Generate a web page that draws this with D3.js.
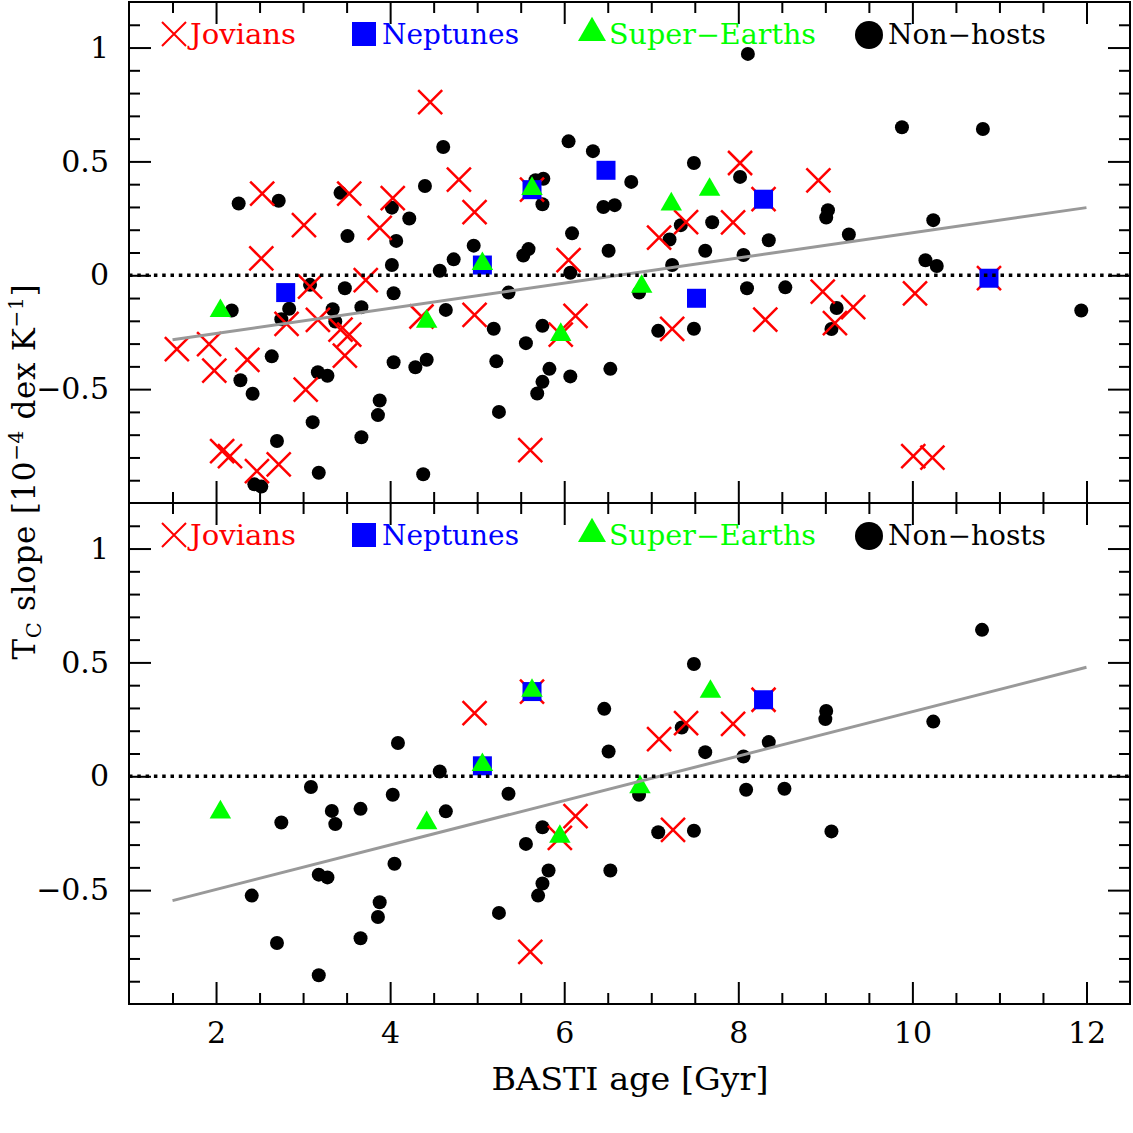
<!DOCTYPE html>
<html>
<head>
<meta charset="utf-8">
<script src="https://cdn.jsdelivr.net/npm/d3@7"></script>
<style>
  body { margin: 0; background: #fff; }
  text { font-family: "DejaVu Serif", serif; }
</style>
</head>
<body>
<svg id="chart" width="1133" height="1133"></svg>
<script>
// ---- data: [age Gyr, Tc slope] ----
// top panel: full sample
const topJovians = [
  [1.55,-0.324],[1.92,-0.302],[1.98,-0.419],[2.36,-0.371],[2.07,-0.772],[2.16,-0.794],
  [2.47,-0.86],[2.72,-0.83],[2.53,0.359],[2.52,0.074],[3.01,0.22],[2.81,-0.213],
  [3.08,-0.05],[3.17,-0.196],[3.03,-0.502],[3.43,-0.239],[3.53,-0.261],[3.48,-0.353],
  [3.53,0.359],[3.72,-0.021],[3.88,0.208],[4.03,0.339],[4.46,0.76],[4.79,0.42],
  [4.97,0.277],[4.36,-0.181],[4.97,-0.174],[5.63,0.376],[5.61,-0.768],[5.96,-0.261],
  [6.05,0.067],[6.13,-0.178],[7.09,0.165],[7.40,0.233],[7.94,0.232],[8.02,0.493],
  [7.24,-0.235],[8.31,-0.195],[8.29,0.334],[8.92,0.417],[8.97,-0.072],[9.11,-0.21],
  [9.32,-0.14],[10.03,-0.079],[10.01,-0.794],[10.23,-0.801],[10.88,-0.013]
];
const topNeptunes = [
  [2.80,-0.076],[5.06,0.045],[5.63,0.376],[6.48,0.461],[7.52,-0.101],[8.29,0.334],[10.88,-0.013]
];
const topSuperEarths = [
  [2.05,-0.156],[4.42,-0.203],[5.06,0.05],[5.63,0.38],[5.96,-0.261],[6.89,-0.05],[7.23,0.312],[7.67,0.376]
];
const topNonHosts = [
  [2.26,0.315],[2.72,0.327],[3.43,0.362],[4.02,0.297],[3.51,0.172],[4.07,0.151],[4.22,0.249],
  [4.40,0.392],[4.61,0.563],[6.05,0.588],[6.33,0.545],[6.77,0.41],[7.49,0.493],[8.02,0.432],
  [8.11,0.972],[5.67,0.417],[5.76,0.424],[5.75,0.312],[6.45,0.30],[6.58,0.308],[7.34,0.22],
  [7.21,0.157],[7.70,0.233],[8.35,0.154],[6.09,0.184],[6.51,0.108],[4.96,0.13],[5.59,0.115],
  [5.53,0.087],[7.62,0.108],[8.06,0.089],[4.73,0.07],[9.88,0.65],[10.81,0.642],[9.03,0.286],
  [9.01,0.254],[10.24,0.242],[9.27,0.179],[10.15,0.066],[10.28,0.041],[4.02,0.045],[4.57,0.02],
  [6.07,0.011],[7.24,0.045],[3.08,-0.042],[3.48,-0.057],[4.04,-0.079],[2.18,-0.155],[2.84,-0.147],
  [2.75,-0.193],[3.34,-0.149],[3.37,-0.203],[3.67,-0.14],[2.64,-0.356],[2.28,-0.461],[2.42,-0.52],
  [3.17,-0.426],[3.28,-0.441],[4.04,-0.382],[3.11,-0.645],[3.88,-0.55],[3.86,-0.614],[3.67,-0.711],
  [2.70,-0.728],[2.44,-0.918],[2.52,-0.928],[3.18,-0.867],[4.64,-0.152],[5.19,-0.235],[5.75,-0.222],
  [5.56,-0.298],[7.08,-0.244],[7.49,-0.235],[5.36,-0.076],[6.86,-0.076],[8.10,-0.057],[4.29,-0.404],
  [4.42,-0.371],[5.22,-0.378],[5.83,-0.411],[6.07,-0.444],[6.53,-0.411],[5.75,-0.468],[5.69,-0.519],
  [5.25,-0.6],[4.38,-0.874],[8.54,-0.053],[9.13,-0.144],[9.07,-0.236],[11.94,-0.155]
];
const topFit = [[1.5,-0.283],[12,0.297]];

// bottom panel: restricted sample
const botJovians = [
  [4.97,0.277],[5.63,0.372],[5.95,-0.271],[5.61,-0.771],[6.13,-0.175],[7.09,0.163],
  [7.40,0.233],[7.94,0.23],[7.25,-0.235],[8.29,0.336]
];
const botNeptunes = [[5.06,0.046],[5.63,0.372],[8.29,0.336]];
const botSuperEarths = [
  [2.05,-0.158],[4.42,-0.205],[5.06,0.05],[5.63,0.376],[5.95,-0.265],[6.87,-0.047],[7.68,0.372]
];
const botNonHosts = [
  [4.09,0.146],[4.57,0.021],[3.09,-0.047],[4.03,-0.081],[5.36,-0.077],[3.33,-0.152],[3.66,-0.143],
  [4.64,-0.154],[2.75,-0.203],[3.37,-0.21],[5.75,-0.224],[5.56,-0.297],[4.05,-0.384],[3.18,-0.432],
  [3.28,-0.444],[5.82,-0.414],[5.75,-0.471],[5.70,-0.524],[2.41,-0.524],[3.88,-0.553],[3.86,-0.618],
  [5.25,-0.6],[2.70,-0.732],[3.66,-0.711],[3.18,-0.874],[6.53,-0.414],[7.08,-0.246],[7.49,-0.239],
  [9.07,-0.242],[7.35,0.214],[7.49,0.493],[6.46,0.296],[6.51,0.109],[7.62,0.106],[8.06,0.087],
  [8.35,0.15],[9.01,0.287],[9.00,0.251],[10.24,0.24],[10.80,0.643],[6.86,-0.081],[8.09,-0.059],[8.53,-0.055]
];
const botFit = [[1.5,-0.546],[12,0.479]];

const legendLabels = ["Jovians", "Neptunes", "Super\u2212Earths", "Non\u2212hosts"];
const xMajorTicks = [2, 4, 6, 8, 10, 12];
const yMajorTicks = [-0.5, 0, 0.5, 1];

// ---- layout ----
const left = 129, right = 1130;
const panelH = 501;
const panels = [
  { top: 2,   jov: topJovians, nep: topNeptunes, se: topSuperEarths, non: topNonHosts, fit: topFit, xLabels: false },
  { top: 503, jov: botJovians, nep: botNeptunes, se: botSuperEarths, non: botNonHosts, fit: botFit, xLabels: true }
];

const svg = d3.select('#chart');
svg.append('rect').attr('width', 1133).attr('height', 1133).attr('fill', '#fff');

const x = d3.scaleLinear().domain([1, 12.5]).range([left, right]);

const xSym = s => `M${-s},${-s}L${s},${s}M${-s},${s}L${s},${-s}`;
const fmt = d3.format("");

panels.forEach(p => {
    const y = d3.scaleLinear().domain([-1, 1.2]).range([p.top + panelH, p.top]);
    const g = svg.append('g');

    // markers: dots first, then crosses, squares, triangles
    g.append('g').selectAll('circle')
        .data(p.non)
        .join('circle')
        .attr('cx', d => x(d[0]))
        .attr('cy', d => y(d[1]))
        .attr('r', 7)
        .attr('fill', '#000');

    g.append('g').selectAll('path')
        .data(p.jov)
        .join('path')
        .attr('d', xSym(12))
        .attr('transform', d => `translate(${x(d[0])},${y(d[1])})`)
        .attr('stroke', '#ff0000')
        .attr('stroke-width', 2.5)
        .attr('fill', 'none');

    g.append('g').selectAll('path')
        .data(p.nep)
        .join('path')
        .attr('d', d3.symbol(d3.symbolSquare, 361)())
        .attr('transform', d => `translate(${x(d[0])},${y(d[1])})`)
        .attr('fill', '#0000ff');

    g.append('g').selectAll('path')
        .data(p.se)
        .join('path')
        .attr('d', d3.symbol(d3.symbolTriangle, 200)())
        .attr('transform', d => `translate(${x(d[0])},${y(d[1])})`)
        .attr('fill', '#00ff00');

    // fit line and zero line
    g.append('path')
        .datum(p.fit)
        .attr('d', d3.line().x(d => x(d[0])).y(d => y(d[1])))
        .attr('stroke', '#999')
        .attr('stroke-width', 3)
        .attr('fill', 'none');

    g.append('line')
        .attr('x1', left).attr('x2', right)
        .attr('y1', y(0)).attr('y2', y(0))
        .attr('stroke', '#000')
        .attr('stroke-width', 3.5)
        .attr('stroke-dasharray', '3.5,4.8');

    // ticks on all four sides, pointing inwards
    const xMinor = d3.range(1.5, 12.5, 0.5).filter(v => v % 2 !== 0);
    const yMinor = d3.range(-9, 12).map(v => v / 10).filter(v => !yMajorTicks.includes(v));

    const addAxis = (axis, tr) => {
        const a = g.append('g').attr('transform', tr).call(axis);
        a.select('.domain').remove();
        a.selectAll('line').attr('stroke', '#000').attr('stroke-width', 2);
        return a;
    };

    addAxis(d3.axisBottom(x).tickValues(xMinor).tickSize(-11).tickFormat(''), `translate(0,${p.top + panelH})`);
    const xb = addAxis(d3.axisBottom(x).tickValues(xMajorTicks).tickSize(-22).tickPadding(18)
        .tickFormat(p.xLabels ? fmt : ''), `translate(0,${p.top + panelH})`);
    xb.selectAll('text').attr('font-size', 30).attr('fill', '#000')
        .attr('font-family', '"DejaVu Serif", serif');
    addAxis(d3.axisTop(x).tickValues(xMinor).tickSize(-11).tickFormat(''), `translate(0,${p.top})`);
    addAxis(d3.axisTop(x).tickValues(xMajorTicks).tickSize(-22).tickFormat(''), `translate(0,${p.top})`);

    addAxis(d3.axisLeft(y).tickValues(yMinor).tickSize(-11).tickFormat(''), `translate(${left},0)`);
    const yl = addAxis(d3.axisLeft(y).tickValues(yMajorTicks).tickSize(-22).tickPadding(20).tickFormat(fmt),
        `translate(${left},0)`);
    yl.selectAll('text').attr('font-size', 30).attr('fill', '#000')
        .attr('font-family', '"DejaVu Serif", serif');
    addAxis(d3.axisRight(y).tickValues(yMinor).tickSize(-11).tickFormat(''), `translate(${right},0)`);
    addAxis(d3.axisRight(y).tickValues(yMajorTicks).tickSize(-22).tickFormat(''), `translate(${right},0)`);

    // frame
    g.append('rect')
        .attr('x', left).attr('y', p.top)
        .attr('width', right - left).attr('height', panelH)
        .attr('fill', 'none').attr('stroke', '#000').attr('stroke-width', 2);

    // legend
    const ly = p.top + 31;
    const lg = g.append('g');
    lg.append('path').attr('d', xSym(12)).attr('transform', `translate(174,${ly + 1})`)
        .attr('stroke', '#ff0000').attr('stroke-width', 2).attr('fill', 'none');
    lg.append('path').attr('d', d3.symbol(d3.symbolSquare, 576)()).attr('transform', `translate(364,${ly + 1})`)
        .attr('fill', '#0000ff');
    lg.append('path').attr('d', d3.symbol(d3.symbolTriangle, 340)()).attr('transform', `translate(592,${ly})`)
        .attr('fill', '#00ff00');
    lg.append('circle').attr('cx', 869).attr('cy', ly + 2).attr('r', 14).attr('fill', '#000');

    const legendItems = [
        { text: legendLabels[0], x: 190, len: 106, color: '#ff0000' },
        { text: legendLabels[1], x: 382, len: 137, color: '#0000ff' },
        { text: legendLabels[2], x: 609, len: 207, color: '#00ff00' },
        { text: legendLabels[3], x: 888, len: 158, color: '#000' }
    ];
    lg.selectAll('text')
        .data(legendItems)
        .join('text')
        .attr('x', d => d.x)
        .attr('y', ly + 11)
        .attr('font-size', 27)
        .attr('fill', d => d.color)
        .attr('textLength', d => d.len)
        .attr('lengthAdjust', 'spacingAndGlyphs')
        .text(d => d.text);
});

// axis titles
svg.append('text')
    .attr('x', 630).attr('y', 1090)
    .attr('text-anchor', 'middle')
    .attr('font-size', 31)
    .attr('textLength', 277)
    .attr('lengthAdjust', 'spacingAndGlyphs')
    .text('BASTI age [Gyr]');

const yt = svg.append('text')
    .attr('transform', 'translate(35,472) rotate(-90)')
    .attr('text-anchor', 'middle')
    .attr('font-size', 31)
    .attr('textLength', 375)
    .attr('lengthAdjust', 'spacing');
yt.append('tspan').text('T');
yt.append('tspan').attr('font-size', 21).attr('dy', 6).text('C');
yt.append('tspan').attr('dy', -6).text(' slope [10');
yt.append('tspan').attr('font-size', 20).attr('dy', -12).text('\u22124');
yt.append('tspan').attr('dy', 12).text(' dex K');
yt.append('tspan').attr('font-size', 20).attr('dy', -12).text('\u22121');
yt.append('tspan').attr('dy', 12).text(']');
</script>
</body>
</html>
